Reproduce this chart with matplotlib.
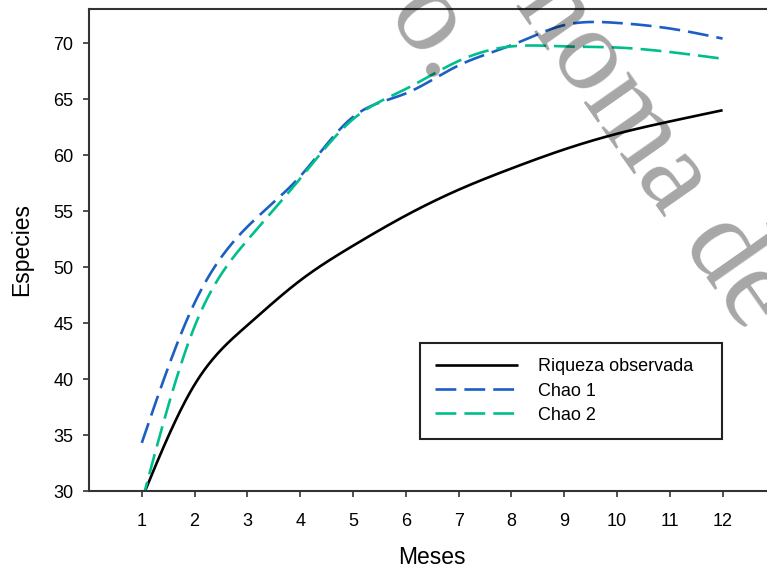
import numpy as np
import matplotlib
matplotlib.use("Agg")
import matplotlib.pyplot as plt

# ---- data ----
meses = [1, 2, 3, 4, 5, 6, 7, 8, 9, 10, 11, 12]
riqueza = [29.3, 39.5, 44.8, 48.8, 51.9, 54.6, 56.9, 58.8, 60.5, 61.9, 63.0, 64.0]
chao1 = [34.3, 46.8, 53.6, 58.1, 63.4, 65.5, 68.0, 69.8, 71.6, 71.8, 71.3, 70.4]
chao2 = [29.0, 44.7, 52.4, 57.9, 63.2, 65.9, 68.4, 69.7, 69.7, 69.6, 69.2, 68.6]
xticks = list(range(1, 13))
yticks = list(range(30, 71, 5))
labels = ["Riqueza observada", "Chao 1", "Chao 2"]


def natural_spline(x, y, xs):
    x = np.asarray(x, float)
    y = np.asarray(y, float)
    n = len(x)
    h = np.diff(x)
    A = np.zeros((n, n))
    r = np.zeros(n)
    A[0, 0] = A[-1, -1] = 1
    for i in range(1, n - 1):
        A[i, i - 1] = h[i - 1]
        A[i, i] = 2 * (h[i - 1] + h[i])
        A[i, i + 1] = h[i]
        r[i] = 3 * ((y[i + 1] - y[i]) / h[i] - (y[i] - y[i - 1]) / h[i - 1])
    c = np.linalg.solve(A, r)
    b = (y[1:] - y[:-1]) / h - h * (2 * c[:-1] + c[1:]) / 3
    d = (c[1:] - c[:-1]) / (3 * h)
    idx = np.clip(np.searchsorted(x, xs) - 1, 0, n - 2)
    dx = xs - x[idx]
    return y[idx] + b[idx] * dx + c[idx] * dx ** 2 + d[idx] * dx ** 3


plt.rcParams['font.family'] = ['Liberation Sans', 'DejaVu Sans']
plt.rcParams['lines.scale_dashes'] = False

W, H = 767, 569
fig = plt.figure(figsize=(W / 100, H / 100), dpi=100)
ax_left, ax_right = 89, 775.4
ax_top, ax_bot = 9, 491
ax = fig.add_axes([ax_left / W, 1 - ax_bot / H, (ax_right - ax_left) / W, (ax_bot - ax_top) / H])

xs = np.linspace(1, 12, 600)
dash = (15.0, 5.8)
ax.plot(xs, natural_spline(meses, riqueza, xs), color='black', lw=1.9, label=labels[0], solid_capstyle='butt')
ax.plot(xs, natural_spline(meses, chao1, xs), color='#1b5fc4', lw=1.9, dashes=dash, label=labels[1])
ax.plot(xs, natural_spline(meses, chao2, xs), color='#00bf8c', lw=1.9, dashes=dash, label=labels[2])

ax.set_xlim(0, 13)
ax.set_ylim(30, 73.04)
ax.set_xticks(xticks)
ax.set_yticks(yticks)
ax.tick_params(axis='both', direction='out', length=4.3, width=1.2, color='#333333', labelsize=13)
ax.tick_params(axis='x', pad=11.5)
ax.tick_params(axis='y', pad=7)
for s in ['left', 'bottom', 'top', 'right']:
    ax.spines[s].set_linewidth(1.5)
    ax.spines[s].set_color('#333333')

ax.set_xlabel('Meses', fontsize=16.5)
ax.set_ylabel('Especies', fontsize=16.5)
ax.xaxis.set_label_coords(0.5, -(546 - ax_bot) / (ax_bot - ax_top))
ax.yaxis.set_label_coords((33 - ax_left) / (ax_right - ax_left), 0.5)

# legend box: left 420, top 343, right 722, bottom 441 (pixels)
lx0 = (420 - ax_left) / (ax_right - ax_left)
lx1 = (722 - ax_left) / (ax_right - ax_left)
ly1 = (ax_bot - 343) / (ax_bot - ax_top)
leg = ax.legend(loc='upper left', bbox_to_anchor=(lx0, ly1, lx1 - lx0, 0.0),
                mode='expand', fontsize=13, frameon=True, fancybox=False,
                edgecolor='#222222', framealpha=1, borderpad=0.85,
                labelspacing=0.4, handlelength=4.6,
                handletextpad=1.1, borderaxespad=0)
leg.get_frame().set_linewidth(1.5)

# watermark fragments
wm = dict(fontsize=85, family=['Liberation Serif', 'DejaVu Serif'], color='black', alpha=0.35,
          rotation=-55, rotation_mode='anchor', ha='left', va='baseline', zorder=10)
fig.text(514 / W, 1 - 3 / H, 'noma de', **wm)
fig.text(384 / W, 1 - 16 / H, 'o.', **wm)

fig.savefig('out.png', dpi=100)
